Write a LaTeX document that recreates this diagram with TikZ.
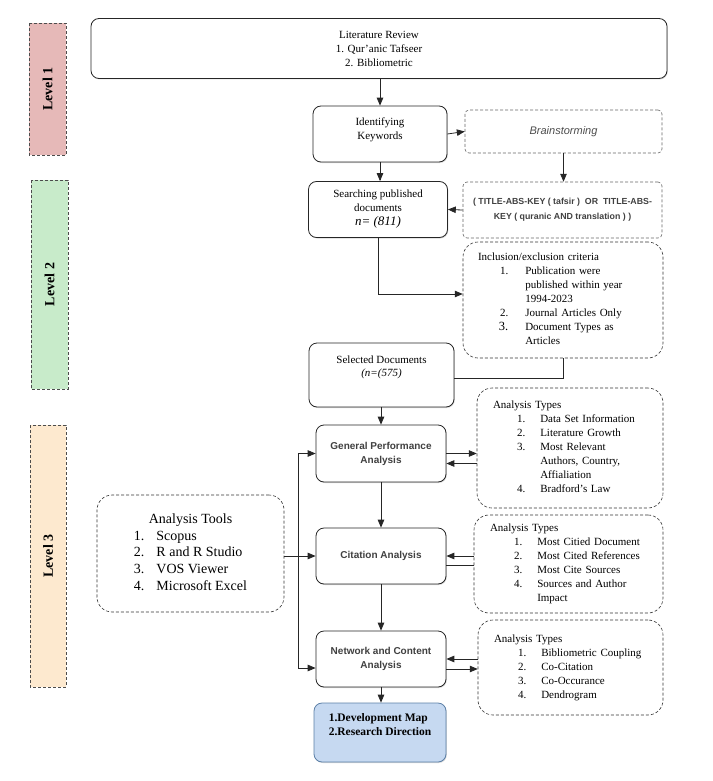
\documentclass[tikz,border=0pt]{standalone}
\usepackage{fontspec}
\setmainfont{Liberation Serif}
\setsansfont{Liberation Sans}
\usetikzlibrary{arrows,shadows}

\definecolor{levelone}{HTML}{E6B9B8}
\definecolor{leveltwo}{HTML}{C8EBCA}
\definecolor{levelthree}{HTML}{FDE9CF}
\definecolor{resultfill}{HTML}{C6D9F1}
\definecolor{resultdraw}{HTML}{5B7FA6}
\definecolor{boxtext}{HTML}{404040}

\begin{document}
\begin{tikzpicture}[>=triangle 45, x=1pt, y=-1pt, line width=0.8pt]
                        \tikzstyle{stepbox} = [draw=black!85, fill=white, rounded corners=8pt, align=center, font=\fontsize{11}{14}\selectfont, drop shadow={shadow xshift=0.8pt, shadow yshift=-1pt, opacity=0.3}];
                        \tikzstyle{taskbox} = [stepbox, font=\sffamily\bfseries\fontsize{10}{14}\selectfont, text=boxtext];
                        \tikzstyle{notebox} = [draw=black!60, line width=0.6pt, dash pattern=on 3pt off 2pt, rounded corners=4pt, align=center];
                        \tikzstyle{listbox} = [draw=black!80, line width=0.6pt, dash pattern=on 3pt off 2pt, rounded corners=15pt, align=left, inner xsep=16pt, font=\fontsize{11}{14}\selectfont];
                        \tikzstyle{levelbar} = [draw=black!70, line width=0.6pt, dash pattern=on 3pt off 2pt, rotate=90, font=\bfseries\fontsize{14}{16}\selectfont];
                        \tikzstyle{link} = [draw=black!85];
                        \useasboundingbox (0,0) rectangle (712,781);
                        % levels
                        \node[levelbar, fill=levelone, minimum width=132, minimum height=37] (lev1) at (47.5,89) {Level 1};
                        \node[levelbar, fill=leveltwo, minimum width=209, minimum height=37] (lev2) at (49.5,284.5) {Level 2};
                        \node[levelbar, fill=levelthree, minimum width=262, minimum height=36] (lev3) at (48,556) {Level 3};
                        % level 1 and 2
                        \node[stepbox, minimum width=576, minimum height=60] (lit) at (379,48.5) {Literature Review\\1. Qur'anic Tafseer\\2. Bibliometric};
                        \node[stepbox, minimum width=134, minimum height=56] (identify) at (380,134) {Identifying\\Keywords\\[-3pt]};
                        \node[notebox, minimum width=197, minimum height=43, font=\sffamily\itshape\fontsize{11}{13}\selectfont, text=black!70] (brain) at (563.5,131.5) {Brainstorming};
                        \node[stepbox, minimum width=139, minimum height=56] (search) at (378,209.5) {Searching published\\documents\\{\fontsize{13}{14}\selectfont\itshape n= (811)}};
                        \node[notebox, minimum width=199, minimum height=56, font=\sffamily\bfseries\fontsize{8.8}{15}\selectfont, text=black!75] (query) at (562.5,210) {( TITLE-ABS-KEY ( tafsir )~ OR~ TITLE-ABS-\\KEY ( quranic AND translation ) )};
                        \node[listbox, inner xsep=15pt, text width=170, minimum height=116] (incl) at (563,300) {\begin{tabular}{@{}r@{\hspace{17pt}}l@{}}
                            \multicolumn{2}{@{}l@{}}{Inclusion/exclusion criteria}\\
                            \hspace{22pt}1. & Publication were\\
                             & published within year\\
                             & 1994-2023\\
                            2. & Journal Articles Only\\
                            {\fontsize{12.5}{14}\selectfont 3.} & Document Types as\\
                             & Articles
                            \end{tabular}};
                        \node[stepbox, minimum width=145, minimum height=64, font=\fontsize{11}{13.3}\selectfont] (selected) at (381.5,375) {Selected Documents\\\textit{(n=(575)}\\[4.7pt]};
                        % level 3
                        \node[taskbox, minimum width=130, minimum height=57] (general) at (381,453.5) {General Performance\\Analysis};
                        \node[taskbox, minimum width=130, minimum height=56] (citation) at (381,556) {Citation Analysis};
                        \node[taskbox, minimum width=130, minimum height=56] (network) at (381,659) {Network and Content\\Analysis};
                        \node[stepbox, draw=resultdraw, fill=resultfill, minimum width=132, minimum height=59, align=left, font=\bfseries\fontsize{11.5}{14}\selectfont] (dev) at (380,732.5) {1.Development Map\\2.Research Direction\\[1pt]};
                        \node[listbox, text width=154, minimum height=120] (types1) at (570,448) {\begin{tabular}{@{}r@{\hspace{15pt}}l@{}}
                            \multicolumn{2}{@{}l@{}}{Analysis Types}\\
                            \hspace{24pt}1. & Data Set Information\\
                            2. & Literature Growth\\
                            3. & Most Relevant\\
                             & Authors, Country,\\
                             & Affialiation\\
                            4. & Bradford's Law
                            \end{tabular}};
                        \node[listbox, text width=157, minimum height=98] (types2) at (568.5,564) {\begin{tabular}{@{}r@{\hspace{15pt}}l@{}}
                            \multicolumn{2}{@{}l@{}}{Analysis Types}\\
                            \hspace{24pt}1. & Most Citied Document\\
                            2. & Most Cited References\\
                            3. & Most Cite Sources\\
                            4. & Sources and Author\\
                             & Impact
                            \end{tabular}};
                        \node[listbox, text width=153, minimum height=95] (types3) at (570.5,667.5) {\begin{tabular}{@{}r@{\hspace{15pt}}l@{}}
                            \multicolumn{2}{@{}l@{}}{Analysis Types}\\
                            \hspace{24pt}1. & Bibliometric Coupling\\
                            2. & Co-Citation\\
                            3. & Co-Occurance\\
                            4. & Dendrogram
                            \end{tabular}};
                        \node[listbox, align=center, inner xsep=8pt, minimum width=187, minimum height=117, font=\fontsize{14}{16.7}\selectfont] (tools) at (190.5,553.5) {\begin{tabular}{@{}r@{\hspace{12pt}}l@{}}
                            \multicolumn{2}{c}{Analysis Tools}\\
                            1. & Scopus\\
                            2. & R and R Studio\\
                            3. & VOS Viewer\\
                            4. & Microsoft Excel
                            \end{tabular}};
                        % connectors
                        \coordinate (bus) at (298,0);
                        \coordinate (g1) at ([yshift=-10pt]general.east);
                        \coordinate (c1) at ([yshift=-9pt]citation.east);
                        \coordinate (n1) at ([yshift=-10pt]network.east);
                        \coordinate (n2) at ([yshift=-9pt]network.west);
                        \draw[link,->] (identify.north |- lit.south) -- (identify.north);
                        \draw[link,->] (identify.east) -- (brain.west);
                        \draw[link,->] (identify.south) -- (identify.south |- search.north);
                        \draw[link,->] (brain.south) -- (brain.south |- query.north);
                        \draw[link,->] (query.west) -- (search.east);
                        \draw[link,->] (search.south) |- ([yshift=6pt]incl.west);
                        \draw[link] (incl.south) |- ([yshift=-3pt]selected.east);
                        \draw[link,->] (general.north |- selected.south) -- (general.north);
                        \draw[link,->] (general.south) -- (citation.north);
                        \draw[link,->] (citation.south) -- (network.north);
                        \draw[link,->] (network.south) -- (network.south |- dev.north);
                        \draw[link,->] (general.east) -- (general.east -| types1.west);
                        \draw[link,<-] (g1) -- (g1 -| types1.west);
                        \draw[link,->] (citation.east -| types2.west) -- (citation.east);
                        \draw[link] (c1) -- (c1 -| types2.west);
                        \draw[link,->] (network.east -| types3.west) -- (network.east);
                        \draw[link,->] (n1) -- (n1 -| types3.west);
                        \draw[link,->] (tools.east |- citation.west) -- (citation.west);
                        \draw[link,<->] (general.west) -- (general.west -| bus) |- (n2);
                    \end{tikzpicture}
\end{document}
